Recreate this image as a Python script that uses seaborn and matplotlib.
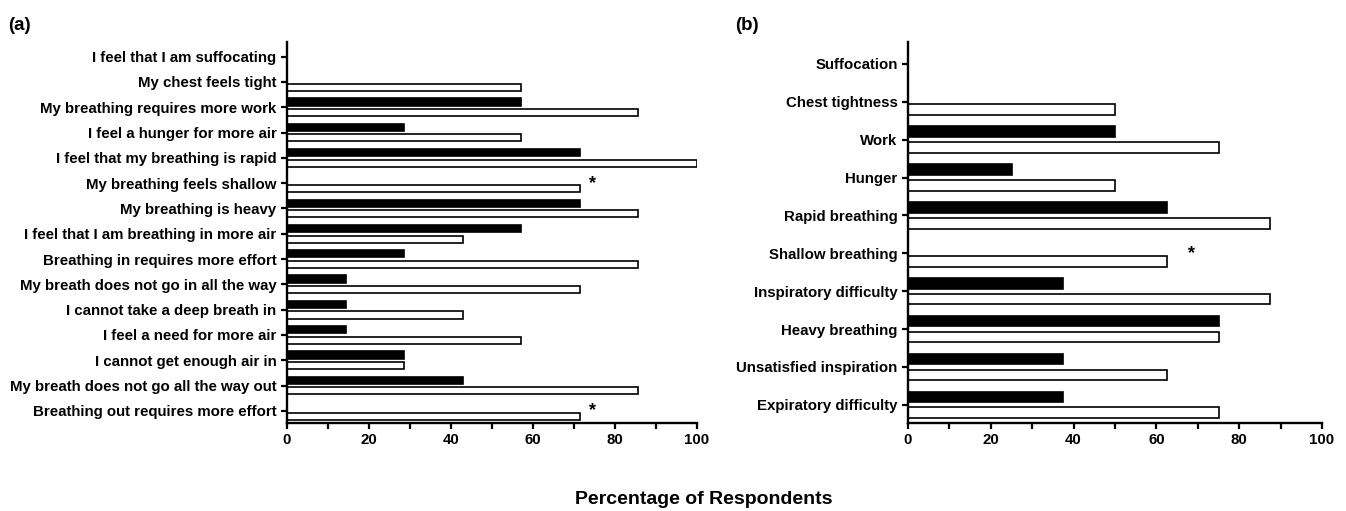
import numpy as np
import pandas as pd
import seaborn as sns
from matplotlib import pyplot as plt
from matplotlib.ticker import MultipleLocator

# panel (a) - individual descriptors
items_a = ["I feel that I am suffocating", "My chest feels tight",
           "My breathing requires more work", "I feel a hunger for more air",
           "I feel that my breathing is rapid", "My breathing feels shallow",
           "My breathing is heavy", "I feel that I am breathing in more air",
           "Breathing in requires more effort", "My breath does not go in all the way",
           "I cannot take a deep breath in", "I feel a need for more air",
           "I cannot get enough air in", "My breath does not go all the way out",
           "Breathing out requires more effort"]
black_a = [0, 0, 57.1, 28.6, 71.4, 0, 71.4, 57.1, 28.6, 14.3, 14.3, 14.3, 28.6, 42.9, 0]
white_a = [0, 57.1, 85.7, 57.1, 100, 71.4, 85.7, 42.9, 85.7, 71.4, 42.9, 57.1, 28.6, 85.7, 71.4]
stars_a = [("My breathing feels shallow", 74.4), ("Breathing out requires more effort", 74.4)]

# panel (b) - clusters
items_b = ["Suffocation", "Chest tightness", "Work", "Hunger", "Rapid breathing",
           "Shallow breathing", "Inspiratory difficulty", "Heavy breathing",
           "Unsatisfied inspiration", "Expiratory difficulty"]
black_b = [0, 0, 50, 25, 62.5, 0, 37.5, 75, 37.5, 37.5]
white_b = [0, 50, 75, 50, 87.5, 62.5, 87.5, 75, 62.5, 75]
stars_b = [("Shallow breathing", 68.4)]

groups = ["Group 1", "Group 2"]


def long_df(items, g1, g2):
    return pd.DataFrame({"item": items * 2,
                         "pct": list(g1) + list(g2),
                         "group": [groups[0]] * len(items) + [groups[1]] * len(items)})


sns.set_style("ticks", {"axes.edgecolor": "black", "text.color": "black",
                        "xtick.color": "black", "ytick.color": "black",
                        "axes.labelcolor": "black"})
plt.rcParams["font.family"] = ["Liberation Sans", "DejaVu Sans"]
plt.rcParams["font.weight"] = "bold"

fig = plt.figure(figsize=(13.46, 5.11), dpi=100)
ax_a = fig.add_axes([0.2132, 0.1722, 0.3046, 0.7456])
ax_b = fig.add_axes([0.6746, 0.1722, 0.3076, 0.7456])

panels = [(ax_a, items_a, black_a, white_a, stars_a, "(a)", 8),
          (ax_b, items_b, black_b, white_b, stars_b, "(b)", 735)]

for ax, items, g1, g2, stars, tag, tx in panels:
    df = long_df(items, g1, g2)
    sns.barplot(data=df, x="pct", y="item", hue="group", order=items, hue_order=groups,
                palette={groups[0]: "black", groups[1]: "white"}, orient="h",
                width=0.84, gap=0.33, edgecolor="black", linewidth=1.2,
                legend=False, ax=ax)
    for name, xs in stars:
        ax.text(xs, items.index(name), "*", ha="center", va="center",
                fontsize=13, fontweight="bold", color="black")
    ax.set_xlim(0, 100)
    ax.set_ylim(len(items) - 0.52, -0.58)
    ax.xaxis.set_major_locator(MultipleLocator(20))
    ax.xaxis.set_minor_locator(MultipleLocator(10))
    ax.set_xlabel("")
    ax.set_ylabel("")
    for s in ["top", "right"]:
        ax.spines[s].set_visible(False)
    for s in ["left", "bottom"]:
        ax.spines[s].set_linewidth(1.7)
        ax.spines[s].set_color("black")
    ax.tick_params(axis="both", which="both", length=4.5, width=1.6, labelsize=10.8,
                   pad=3, color="black", labelcolor="black")
    for lab in ax.get_xticklabels() + ax.get_yticklabels():
        lab.set_fontweight("bold")
    fig.text(tx / 1346, 1 - 25 / 511, tag, ha="left", va="center",
             fontsize=13.5, fontweight="bold", color="black")

fig.text(704 / 1346, 1 - 500 / 511, "Percentage of Respondents", ha="center", va="center",
         fontsize=14, fontweight="bold", color="black")

fig.savefig("out.png", dpi=100)
